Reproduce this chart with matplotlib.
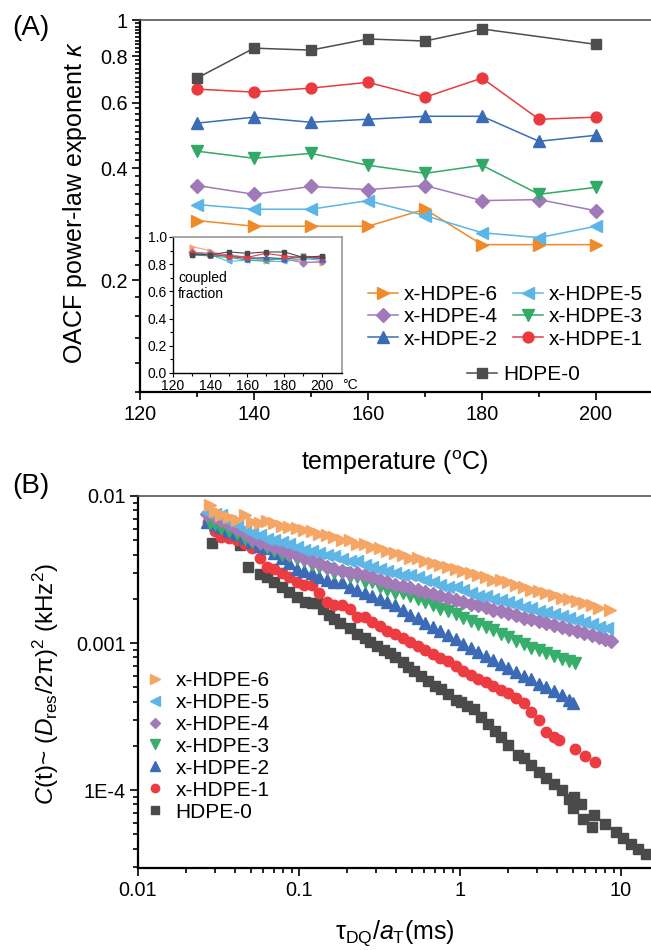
import numpy as np
import matplotlib
matplotlib.use("Agg")
import matplotlib.pyplot as plt
from matplotlib.ticker import FixedLocator, NullFormatter, FixedFormatter, LogLocator

plt.rcParams['font.family'] = ['Liberation Sans', 'DejaVu Sans']
plt.rcParams['mathtext.fontset'] = 'custom'
plt.rcParams['mathtext.rm'] = 'Liberation Sans'
plt.rcParams['mathtext.it'] = 'Liberation Sans:italic'
plt.rcParams['mathtext.bf'] = 'Liberation Sans:bold'

### Données panneau (A) : exposant kappa en fonction de la température ###

temperatures = [130, 140, 150, 160, 170, 180, 190, 200]
temp_hdpe0 = [130, 140, 150, 160, 170, 180, 200]

kappa_hdpe0 = [0.698, 0.84, 0.83, 0.889, 0.878, 0.946, 0.86]
kappa_x1 = [0.652, 0.64, 0.656, 0.68, 0.62, 0.698, 0.541, 0.548]
kappa_x2 = [0.528, 0.548, 0.531, 0.541, 0.551, 0.551, 0.472, 0.49]
kappa_x3 = [0.444, 0.425, 0.438, 0.407, 0.387, 0.407, 0.34, 0.355]
kappa_x4 = [0.359, 0.34, 0.357, 0.35, 0.359, 0.327, 0.329, 0.307]
kappa_x5 = [0.319, 0.31, 0.31, 0.327, 0.298, 0.268, 0.26, 0.279]
kappa_x6 = [0.289, 0.279, 0.279, 0.279, 0.31, 0.249, 0.249, 0.249]

# encart : fraction couplée
frac_hdpe0 = [0.87, 0.87, 0.89, 0.88, 0.89, 0.89, 0.85, 0.86]
frac_x1 = [0.88, 0.87, 0.86, 0.85, 0.88, 0.86, 0.85, 0.85]
frac_x2 = [0.88, 0.87, 0.86, 0.84, 0.85, 0.84, 0.85, 0.84]
frac_x3 = [0.87, 0.86, 0.85, 0.83, 0.83, 0.84, 0.86, 0.85]
frac_x4 = [0.89, 0.88, 0.87, 0.85, 0.84, 0.84, 0.81, 0.82]
frac_x5 = [0.87, 0.87, 0.82, 0.83, 0.82, 0.82, 0.84, 0.83]
frac_x6 = [0.93, 0.90, 0.85, 0.86, 0.82, 0.85, 0.82, 0.81]

### Données panneau (B) : C(t) en fonction de tau_DQ / a_T ###

tau_common = [0.027, 0.030, 0.033, 0.037, 0.041, 0.046, 0.051, 0.057, 0.063, 0.070,
              0.078, 0.087, 0.097, 0.108, 0.120, 0.134, 0.149, 0.166, 0.185, 0.206,
              0.230, 0.256, 0.285, 0.318, 0.354, 0.394, 0.440, 0.490, 0.545, 0.610,
              0.680, 0.755, 0.840, 0.940, 1.05, 1.17, 1.30, 1.45, 1.61, 1.80,
              2.00, 2.23, 2.49, 2.77, 3.09, 3.44, 3.83, 4.27, 4.76, 5.30,
              5.90, 6.60, 7.35, 8.20]

tau_x6 = [0.028] + tau_common[1:53] + [8.60]
ct_x6 = [0.0087, 0.0079, 0.0074, 0.0072, 0.0069, 0.0074, 0.0067, 0.0066, 0.0068, 0.0066,
         0.0063, 0.0062, 0.0061, 0.0059, 0.0058, 0.0055, 0.0054, 0.0053, 0.0050, 0.0050,
         0.0047, 0.0047, 0.0045, 0.0044, 0.0042, 0.0041, 0.0040, 0.0038, 0.0038, 0.0036,
         0.0035, 0.0034, 0.0033, 0.0032, 0.0031, 0.0030, 0.0029, 0.0028, 0.0027, 0.0027,
         0.0026, 0.0025, 0.0024, 0.0023, 0.00226, 0.00218, 0.00213, 0.00204, 0.00200, 0.00192,
         0.00187, 0.00181, 0.00174, 0.00167]

tau_x5 = tau_common
ct_x5 = [0.0078, 0.0076, 0.0074, 0.0068, 0.0064, 0.0060, 0.0056, 0.0054, 0.0051, 0.0050,
         0.0049, 0.0047, 0.0045, 0.0043, 0.0042, 0.0041, 0.0040, 0.0039, 0.0037, 0.0036,
         0.0036, 0.0034, 0.0033, 0.0032, 0.0031, 0.0030, 0.0029, 0.0029, 0.0028, 0.0027,
         0.0026, 0.0025, 0.0024, 0.0024, 0.0023, 0.0022, 0.0021, 0.0021, 0.0020, 0.00195,
         0.0019, 0.00184, 0.00177, 0.00173, 0.00166, 0.00163, 0.00157, 0.00153, 0.00147, 0.00144,
         0.00138, 0.00134, 0.00128, 0.00126]

tau_x4 = tau_common[:53] + [8.0, 8.7]
ct_x4 = [0.0075, 0.0072, 0.0069, 0.0065, 0.0060, 0.0056, 0.0051, 0.0049, 0.0047, 0.0045,
         0.0043, 0.0041, 0.0040, 0.0038, 0.0036, 0.0035, 0.0033, 0.0032, 0.0031, 0.0030,
         0.0030, 0.0029, 0.0028, 0.0027, 0.0026, 0.0025, 0.00245, 0.00238, 0.0023, 0.00223,
         0.00217, 0.0021, 0.00204, 0.00197, 0.00191, 0.00185, 0.0018, 0.00175, 0.00169, 0.00164,
         0.00159, 0.00154, 0.00149, 0.00145, 0.00141, 0.00136, 0.00132, 0.00128, 0.00124, 0.0012,
         0.00117, 0.00113, 0.0011, 0.00107, 0.00103]

tau_x3 = [0.028] + tau_common[1:49] + [5.16]
ct_x3 = [0.0066, 0.0064, 0.0061, 0.0058, 0.0055, 0.0051, 0.0049, 0.0047, 0.0044, 0.0042,
         0.0040, 0.0039, 0.0037, 0.0036, 0.0034, 0.0033, 0.0032, 0.0030, 0.0030, 0.0028,
         0.0028, 0.0026, 0.0026, 0.0024, 0.0023, 0.0022, 0.0022, 0.0021, 0.0020, 0.0019,
         0.0018, 0.0017, 0.00166, 0.00157, 0.00149, 0.00142, 0.00135, 0.00129, 0.00122, 0.00116,
         0.0011, 0.00104, 0.00098, 0.00093, 0.00089, 0.00085, 0.00081, 0.00078, 0.00075, 0.00073]

tau_x2 = tau_common[:49] + [5.0]
ct_x2 = [0.0067, 0.0065, 0.0062, 0.0058, 0.0055, 0.0052, 0.0049, 0.0046, 0.0044, 0.0041,
         0.0038, 0.0035, 0.0032, 0.0031, 0.0030, 0.0028, 0.0027, 0.0026, 0.0026, 0.0024,
         0.0023, 0.0022, 0.0021, 0.0020, 0.0019, 0.0018, 0.00167, 0.00156, 0.00147, 0.00137,
         0.00129, 0.00121, 0.00114, 0.00106, 0.00099, 0.00093, 0.00087, 0.00082, 0.00077, 0.00072,
         0.00068, 0.00064, 0.0006, 0.00057, 0.00053, 0.0005, 0.00047, 0.00044, 0.00041, 0.00039]

tau_x1 = [0.0274] + tau_common[1:47] + [4.10, 5.20, 6.00, 6.90]
ct_x1 = [0.0067, 0.0058, 0.0053, 0.0052, 0.0050, 0.0047, 0.0044, 0.0038, 0.0033, 0.0032,
         0.0030, 0.0028, 0.0026, 0.0025, 0.0025, 0.0022, 0.0019, 0.0018, 0.0018, 0.0017,
         0.0015, 0.0015, 0.0014, 0.0013, 0.0012, 0.00115, 0.00108, 0.00102, 0.00096, 0.00089,
         0.00084, 0.00079, 0.00076, 0.0007, 0.00065, 0.00061, 0.00057, 0.00054, 0.00051, 0.00048,
         0.00046, 0.00042, 0.00039, 0.00034, 0.00030, 0.00025, 0.00023, 0.00022, 0.00019, 0.00017,
         0.000155]

tau_hdpe0 = [0.0288, 0.043, 0.0485, 0.057, 0.063, 0.0695, 0.078, 0.087, 0.097, 0.109,
             0.120, 0.129, 0.140, 0.153, 0.166, 0.181, 0.206, 0.230, 0.256, 0.278,
             0.305, 0.336, 0.365, 0.394, 0.440, 0.472, 0.52, 0.575, 0.635, 0.70,
             0.757, 0.84, 0.94, 1.01, 1.1, 1.22, 1.35, 1.5, 1.65, 1.8,
             2.0, 2.28, 2.5, 2.77, 3.09, 3.44, 3.83, 4.27, 4.76, 5.0,
             5.1, 5.63, 5.77, 6.65, 6.8, 8.0, 9.3, 10.3, 11.5, 12.8, 14.3]
ct_hdpe0 = [0.00477, 0.00464, 0.0033, 0.00295, 0.00282, 0.00261, 0.0024, 0.00224, 0.00207, 0.00191,
            0.00188, 0.00186, 0.0017, 0.00155, 0.00145, 0.00136, 0.00126, 0.00116, 0.00108, 0.00102,
            0.000955, 0.000895, 0.000851, 0.000804, 0.000741, 0.000692, 0.000646, 0.000596, 0.00055, 0.000513,
            0.00049, 0.000447, 0.000412, 0.000398, 0.000372, 0.000355, 0.000316, 0.000282, 0.000251, 0.000229,
            0.000204, 0.000174, 0.000166, 0.000148, 0.000132, 0.00012, 0.00011, 0.0001, 8.7e-5, 7.5e-5,
            9.0e-5, 8.1e-5, 6.4e-5, 5.6e-5, 6.8e-5, 5.9e-5, 5.2e-5, 4.7e-5, 4.3e-5, 4.0e-5, 3.7e-5]

labels = ["x-HDPE-6", "x-HDPE-5", "x-HDPE-4", "x-HDPE-3", "x-HDPE-2", "x-HDPE-1", "HDPE-0"]
markers = [">", "<", "D", "v", "^", "o", "s"]
colors_A = ["#f08a28", "#5bb5e6", "#a07ab8", "#30aa66", "#3a6cb6", "#ea3a40", "#4d4d4d"]
colors_B = ["#f6a664", "#5db6e6", "#a27ab8", "#37ae6b", "#3b6bb6", "#ec3b41", "#4a4a4a"]

# tailles des symboles (points)
ms_A = {">": 9, "<": 9, "^": 9, "v": 9, "D": 6.8, "o": 7.8, "s": 7.3}
ms_B = {">": 9, "<": 9, "^": 9, "v": 9, "D": 6.8, "o": 7.5, "s": 7.3}

W, H = 651, 950
fig = plt.figure(figsize=(W / 100, H / 100), dpi=100)


def px_axes(x0, y0, x1, y1):
    return [x0 / W, 1 - y1 / H, (x1 - x0) / W, (y1 - y0) / H]


def style_spines(ax):
    ax.spines['right'].set_visible(False)
    ax.spines['top'].set_linewidth(1.2)
    ax.spines['top'].set_color('#555555')
    ax.spines['left'].set_linewidth(1.6)
    ax.spines['bottom'].set_linewidth(1.6)
    ax.tick_params(which='both', direction='out', top=False, right=False, width=1.2)
    ax.tick_params(which='major', length=6, labelsize=14.3, pad=3)
    ax.tick_params(which='minor', length=3.5)


### Panneau (A) ###
axA = fig.add_axes(px_axes(140, 20, 653, 392))
kappas = [kappa_x6, kappa_x5, kappa_x4, kappa_x3, kappa_x2, kappa_x1, kappa_hdpe0]
handles_A = []
for i in range(7):
    xs = temp_hdpe0 if labels[i] == "HDPE-0" else temperatures
    h, = axA.plot(xs, kappas[i], color=colors_A[i], marker=markers[i], ms=ms_A[markers[i]],
                  lw=1.1, mec=colors_A[i], label=labels[i])
    handles_A.append(h)

axA.set_yscale('log')
axA.set_ylim(0.1, 1.0)
axA.set_xlim(120, 210)
axA.yaxis.set_major_locator(FixedLocator([0.2, 0.4, 0.6, 0.8, 1.0]))
axA.yaxis.set_major_formatter(FixedFormatter(["0.2", "0.4", "0.6", "0.8", "1"]))
axA.yaxis.set_minor_locator(FixedLocator([v / 100 for v in range(10, 100, 2)]))
axA.yaxis.set_minor_formatter(NullFormatter())
axA.set_xticks([120, 140, 160, 180, 200])
axA.set_xticks([130, 150, 170, 190, 210], minor=True)
style_spines(axA)

leg_kw = dict(frameon=False, fontsize=15, loc='upper left', bbox_transform=fig.transFigure,
              borderpad=0, borderaxespad=0, handlelength=1.44, handletextpad=0.3)
leg1 = axA.legend([handles_A[0], handles_A[2], handles_A[4], handles_A[1], handles_A[3], handles_A[5]],
                  [labels[0], labels[2], labels[4], labels[1], labels[3], labels[5]],
                  ncol=2, columnspacing=0.7, labelspacing=0.16,
                  bbox_to_anchor=(368 / W, 1 - 285 / H), **leg_kw)
axA.add_artist(leg1)
axA.legend([handles_A[6]], [labels[6]], bbox_to_anchor=(467 / W, 1 - 365 / H), **leg_kw)

# encart
axI = fig.add_axes(px_axes(173, 237, 342, 373))
fracs = [frac_x6, frac_x5, frac_x4, frac_x3, frac_x2, frac_x1, frac_hdpe0]
for i in range(7):
    axI.plot(temperatures, fracs[i], color=colors_B[i], marker=markers[i], ms=3.5,
             lw=0.8, mec=colors_B[i])
axI.set_xlim(120, 211)
axI.set_ylim(0, 1.0)
axI.set_xticks([120, 140, 160, 180, 200])
axI.set_xticks([130, 150, 170, 190], minor=True)
axI.set_yticks([0.0, 0.2, 0.4, 0.6, 0.8, 1.0])
axI.set_yticks([0.1, 0.3, 0.5, 0.7, 0.9], minor=True)
axI.yaxis.set_major_formatter(FixedFormatter(["0.0", "0.2", "0.4", "0.6", "0.8", "1.0"]))
for s in ['top', 'right']:
    axI.spines[s].set_color('#999999')
    axI.spines[s].set_linewidth(1.2)
for s in ['left', 'bottom']:
    axI.spines[s].set_linewidth(1.0)
axI.tick_params(which='both', direction='out', labelsize=10, pad=1.5, width=0.8)
axI.tick_params(which='major', length=3)
axI.tick_params(which='minor', length=2)
axI.text(1.0, -0.035, "°C", transform=axI.transAxes, fontsize=10, ha='left', va='top')
axI.text(0.03, 0.64, "coupled\nfraction", transform=axI.transAxes, fontsize=10,
         ha='left', va='center', linespacing=1.15)

fig.text(12 / W, 1 - 28 / H, "(A)", fontsize=20, ha='left', va='center')
fig.text(75 / W, 1 - 203 / H, r"OACF power-law exponent $\kappa$", fontsize=18,
         rotation=90, ha='center', va='center')
fig.text(395 / W, 1 - 470 / H, r"temperature ($\mathregular{^{o}}$C)", fontsize=18,
         ha='center', va='baseline')

### Panneau (B) ###
axB = fig.add_axes(px_axes(138, 496, 653, 868))
taus = [tau_x6, tau_x5, tau_x4, tau_x3, tau_x2, tau_x1, tau_hdpe0]
cts = [ct_x6, ct_x5, ct_x4, ct_x3, ct_x2, ct_x1, ct_hdpe0]
handles_B = [None] * 7
for i in [6, 5, 4, 3, 2, 1, 0]:
    h, = axB.plot(taus[i], cts[i], ls='none', marker=markers[i], ms=ms_B[markers[i]],
                  color=colors_B[i], mec=colors_B[i], label=labels[i])
    handles_B[i] = h

axB.set_xscale('log')
axB.set_yscale('log')
axB.set_xlim(0.01, 15.8)
axB.set_ylim(2.95e-5, 0.01)
axB.yaxis.set_major_locator(FixedLocator([1e-4, 1e-3, 1e-2]))
axB.yaxis.set_major_formatter(FixedFormatter(["1E-4", "0.001", "0.01"]))
axB.yaxis.set_minor_locator(LogLocator(base=10, subs=np.arange(2, 10), numticks=20))
axB.yaxis.set_minor_formatter(NullFormatter())
axB.xaxis.set_major_locator(FixedLocator([0.01, 0.1, 1, 10]))
axB.xaxis.set_major_formatter(FixedFormatter(["0.01", "0.1", "1", "10"]))
axB.xaxis.set_minor_locator(LogLocator(base=10, subs=np.arange(2, 10), numticks=20))
axB.xaxis.set_minor_formatter(NullFormatter())
style_spines(axB)

axB.legend(handles_B, labels, frameon=False, fontsize=15, loc='upper left',
           bbox_to_anchor=(147 / W, 1 - 671 / H), bbox_transform=fig.transFigure,
           borderpad=0, borderaxespad=0, handlelength=0.8, handletextpad=0.56,
           labelspacing=0.14, markerscale=0.8)

fig.text(12 / W, 1 - 486 / H, "(B)", fontsize=20, ha='left', va='center')
fig.text(46 / W, 1 - 684 / H,
         r"$\mathit{C}$(t)~ ($\mathit{D}_{\mathrm{res}}$/2π)$^2$ (kHz$^2$)",
         fontsize=17.5, rotation=90, ha='center', va='center')
fig.text(395 / W, 1 - 939 / H, r"τ$_{\mathrm{DQ}}$/$\mathit{a}_{\mathrm{T}}$(ms)",
         fontsize=18, ha='center', va='baseline')

fig.savefig("out.png", dpi=100)
